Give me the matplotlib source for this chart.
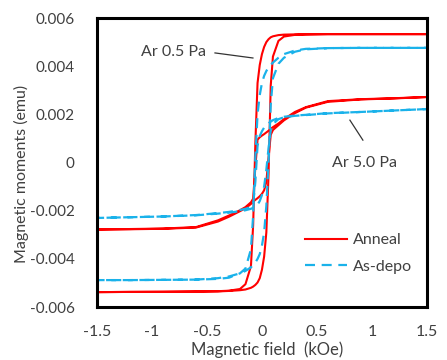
import numpy as np
import matplotlib.pyplot as plt

plt.rcParams['font.family'] = ['Lato', 'DejaVu Sans']

# field grid (kOe) shared by every branch
field = [-1.5, -1.2, -0.9, -0.6, -0.4, -0.3, -0.2, -0.15, -0.1, -0.08, -0.06, -0.04, -0.02,
         0.0, 0.02, 0.04, 0.06, 0.08, 0.1, 0.15, 0.2, 0.3, 0.4, 0.6, 0.9, 1.2, 1.5]

# moments in 1e-3 emu
anneal_05_down = [-5.38, -5.37, -5.36, -5.35, -5.34, -5.32, -5.25, -5.05, -4.3, -2.6, 0.8, 3.3, 4.05,
                  4.5, 4.8, 5.0, 5.12, 5.2, 5.24, 5.29, 5.31, 5.32, 5.32, 5.33, 5.33, 5.33, 5.33]
anneal_05_up = [-5.38, -5.37, -5.37, -5.36, -5.35, -5.33, -5.3, -5.27, -5.2, -5.15, -5.08, -4.98, -4.8,
                -4.45, -3.9, -2.9, -0.5, 3.2, 4.4, 5.05, 5.23, 5.3, 5.32, 5.33, 5.33, 5.33, 5.33]
asdepo_05_down = [-4.88, -4.88, -4.87, -4.86, -4.83, -4.78, -4.6, -4.4, -3.6, -2.2, 0.2, 2.0, 2.8,
                  3.3, 3.6, 3.8, 3.95, 4.05, 4.15, 4.35, 4.5, 4.65, 4.72, 4.75, 4.76, 4.76, 4.76]
asdepo_05_up = [-4.88, -4.88, -4.87, -4.86, -4.8, -4.73, -4.6, -4.5, -4.35, -4.25, -4.15, -4.0, -3.8,
                -3.45, -2.9, -1.8, 0.0, 2.4, 3.5, 4.1, 4.35, 4.6, 4.7, 4.75, 4.76, 4.76, 4.76]
anneal_50_down = [-2.78, -2.76, -2.74, -2.68, -2.4, -2.2, -1.98, -1.85, -1.65, -1.5, -0.2, 0.95, 1.05,
                  1.12, 1.18, 1.25, 1.32, 1.4, 1.47, 1.62, 1.8, 2.1, 2.3, 2.55, 2.63, 2.67, 2.72]
anneal_50_up = [-2.78, -2.77, -2.75, -2.7, -2.45, -2.25, -2.02, -1.9, -1.72, -1.62, -1.55, -1.48, -1.4,
                -1.3, -1.15, -0.8, 0.2, 1.15, 1.35, 1.55, 1.75, 2.05, 2.28, 2.52, 2.62, 2.66, 2.72]
asdepo_50_down = [-2.3, -2.27, -2.24, -2.18, -2.1, -2.05, -1.97, -1.92, -1.85, -1.75, -0.8, 0.7, 1.1,
                  1.3, 1.45, 1.55, 1.63, 1.7, 1.76, 1.85, 1.9, 1.95, 1.98, 2.05, 2.1, 2.16, 2.22]
asdepo_50_up = [-2.3, -2.27, -2.24, -2.19, -2.12, -2.08, -2.02, -1.98, -1.92, -1.88, -1.82, -1.75, -1.6,
                -1.35, -1.0, -0.3, 0.6, 1.35, 1.6, 1.8, 1.88, 1.94, 1.97, 2.04, 2.1, 2.16, 2.22]

x_ticks = [-1.5, -1, -0.5, 0, 0.5, 1, 1.5]
x_labels = ['-1.5', '-1', '-0.5', '0', '0.5', '1', '1.5']
y_ticks = [-0.006, -0.004, -0.002, 0, 0.002, 0.004, 0.006]
y_labels = ['-0.006', '-0.004', '-0.002', '0', '0.002', '0.004', '0.006']

RED = '#FF0000'
BLUE = '#1AB2EA'
TXT = '#404040'
FS = 11.5


def loop(down, up):
    h = np.array(field)
    x = np.concatenate([h[::-1], h])
    y = np.concatenate([np.array(down)[::-1], np.array(up)]) * 1e-3
    return x, y


fig = plt.figure(figsize=(4.47, 3.6), dpi=100)
ax = fig.add_axes([0.217, 0.147, 0.738, 0.803])

for down, up in [(anneal_05_down, anneal_05_up), (anneal_50_down, anneal_50_up)]:
    x, y = loop(down, up)
    ax.plot(x, y, color=RED, lw=1.5)
for down, up in [(asdepo_05_down, asdepo_05_up), (asdepo_50_down, asdepo_50_up)]:
    x, y = loop(down, up)
    ax.plot(x, y, color=BLUE, lw=1.6, dashes=(4.5, 3))

ax.set_xlim(-1.5, 1.5)
ax.set_ylim(-0.006, 0.006)
ax.set_xticks(x_ticks)
ax.set_xticklabels(x_labels)
ax.set_yticks(y_ticks)
ax.set_yticklabels(y_labels)
ax.tick_params(length=0, labelsize=FS, colors=TXT)
ax.tick_params(axis='y', labelsize=11)
ax.tick_params(axis='x', pad=13)
ax.tick_params(axis='y', pad=16)
for s in ax.spines.values():
    s.set_linewidth(2.2)
    s.set_color('black')

ax.set_xlabel('Magnetic field  (kOe)', fontsize=12, color=TXT)
ax.xaxis.set_label_coords(0.515, -0.12)
ax.set_ylabel('Magnetic moments (emu)', fontsize=11.5, color=TXT)
ax.yaxis.set_label_coords(-0.205, 0.46)

# labels with leader lines
ax.text(-0.8, 0.00459, 'Ar 0.5 Pa', fontsize=FS, color=TXT, ha='center', va='center')
ax.plot([-0.427, -0.082], [0.00455, 0.00434], color='#333333', lw=0.9)
ax.text(0.93, 0.0, 'Ar 5.0 Pa', fontsize=FS, color=TXT, ha='center', va='center')
ax.plot([0.8, 0.918], [0.00176, 0.00093], color='#333333', lw=0.9)

h1, = ax.plot([], [], color=RED, lw=1.5)
h2, = ax.plot([], [], color=BLUE, lw=1.6, dashes=(4.5, 3))
leg = ax.legend([h1, h2], ['Anneal', 'As-depo'], loc='upper left', bbox_to_anchor=(0.588, 0.305),
                frameon=False, fontsize=FS, handlelength=2.6, handletextpad=0.35, labelspacing=0.75)
for t in leg.get_texts():
    t.set_color(TXT)

fig.savefig('out.png', dpi=100)
